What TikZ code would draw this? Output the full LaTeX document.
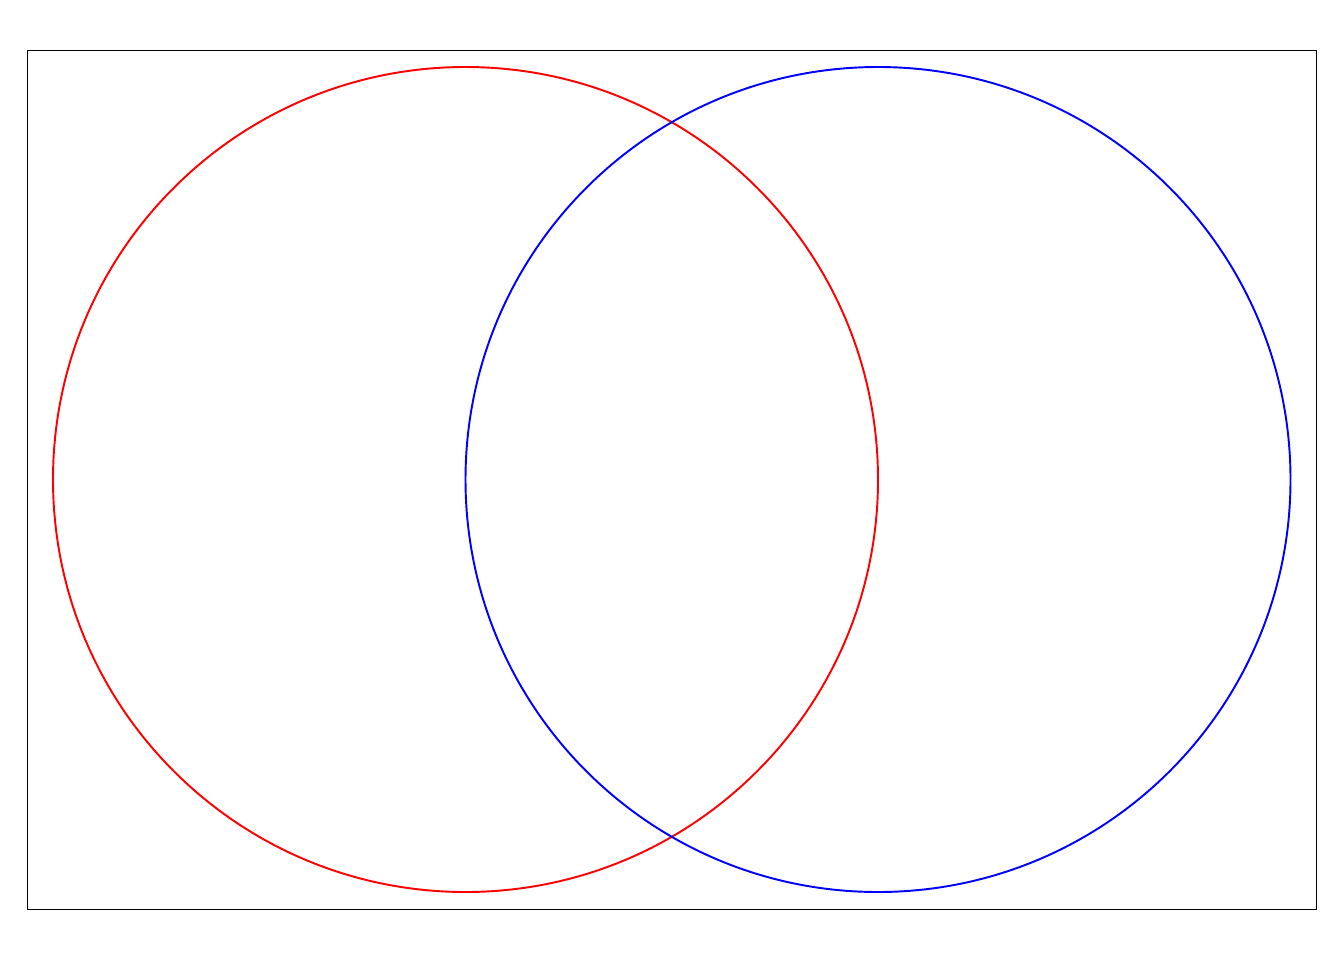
\documentclass[tikz,border=0pt]{standalone}
\begin{document}
\begin{tikzpicture}[x=0.02cm,y=-0.02cm,
  frame/.style={draw=black,line width=0.4pt},
  ring/.style={line width=1.1pt}]
\useasboundingbox (0,0) rectangle (1344,960);
\draw[frame] (27,50) rectangle (1316,909);
\coordinate (cr) at (465.5,479.5);
\coordinate (cb) at (878,479.5);
\draw[ring,red] (cr) circle[radius=412.5*0.02cm];
\draw[ring,blue] (cb) circle[radius=412.5*0.02cm];
\end{tikzpicture}
\end{document}
